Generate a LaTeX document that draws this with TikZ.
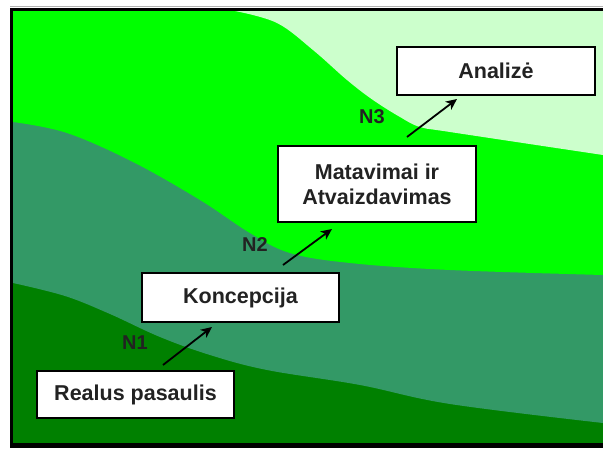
\documentclass[tikz,border=0pt]{standalone}
\usepackage{fontspec}
\setmainfont{Liberation Sans}
\usetikzlibrary{arrows.meta}
\definecolor{lightg}{HTML}{CCFFCC}
\definecolor{brightg}{HTML}{00FF00}
\definecolor{midg}{HTML}{339966}
\definecolor{darkg}{HTML}{008000}
\definecolor{txt}{HTML}{222222}
\begin{document}
\begin{tikzpicture}[x=1pt,y=-1pt,
  box/.style={draw=black, line width=2pt, fill=white, text=txt,
    font=\fontsize{21.5}{25}\selectfont\bfseries, align=center, inner sep=0pt},
  lab/.style={text=txt, font=\fontsize{20}{22}\selectfont\bfseries, inner sep=0pt},
  arr/.style={line width=1.8pt, -{Stealth[length=11pt,width=10pt,inset=3pt]}}]
\useasboundingbox (0,0) rectangle (603,448);
\fill[white] (0,0) rectangle (603,448);
\fill[black] (10,8) rectangle (603,448);
\draw[gray!60, line width=1.2pt] (10,6.5) -- (603,6.5);
\begin{scope}
  \clip (13,11) rectangle (603,443);
  \fill[darkg] (13,11) rectangle (603,443);
  \fill[midg] (0,0) -- (0,283) -- plot[smooth, tension=0.6] coordinates
    {(13,283) (65,296) (110,314) (160,337) (210,355) (267,370) (360,385) (450,404) (603,423)}
    -- (610,423) -- (610,0) -- cycle;
  \fill[brightg] (0,0) -- (0,122) -- plot[smooth, tension=0.6] coordinates
    {(13,122) (67,133) (133,162) (200,200) (250,233) (290,253) (350,263) (450,270) (603,275)}
    -- (610,275) -- (610,0) -- cycle;
  \fill[lightg] (235,0) -- plot[smooth, tension=0.6] coordinates
    {(235,11) (277,23) (313,50) (347,80) (373,100) (400,117) (420,127) (450,132) (603,155)}
    -- (610,155) -- (610,0) -- cycle;
\end{scope}

\node[box, minimum width=198pt, minimum height=48pt] (anal) at (496,71) {Analizė};
\node[box, minimum width=198pt, minimum height=76pt] (mat) at (377,184) {Matavimai ir\\Atvaizdavimas};
\node[box, minimum width=197pt, minimum height=49pt] (konc) at (240.5,297.5) {Koncepcija};
\node[box, minimum width=197pt, minimum height=47pt] (real) at (135.5,394.5) {Realus pasaulis};

\draw[arr] ([xshift=27.5pt,yshift=5pt]real.north) -- ([xshift=-28.5pt,yshift=-4pt]konc.south);
\draw[arr] ([xshift=42.5pt,yshift=7pt]konc.north) -- ([xshift=-45pt,yshift=-6pt]mat.south);
\draw[arr] ([xshift=30pt,yshift=8pt]mat.north) -- ([xshift=-39pt,yshift=-3pt]anal.south);

\node[lab] (n1) at (135,343) {N1};
\node[lab] (n2) at (255,245) {N2};
\node[lab] (n3) at (372,117) {N3};
\end{tikzpicture}
\end{document}
